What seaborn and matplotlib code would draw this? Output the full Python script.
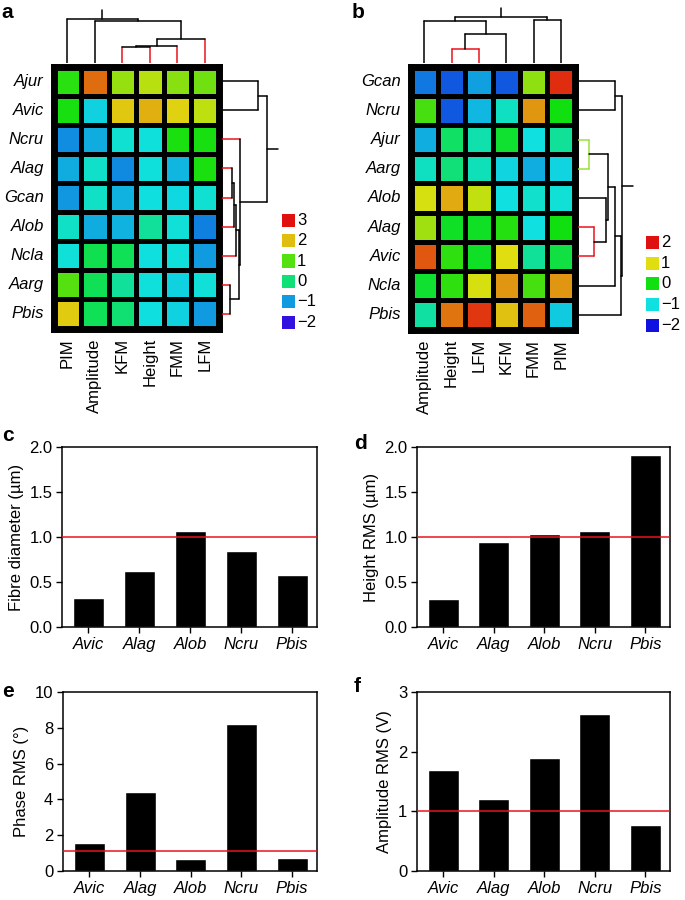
import numpy as np
import pandas as pd
import seaborn as sns
import matplotlib
matplotlib.use("Agg")
from matplotlib import pyplot as plt
from matplotlib.colors import ListedColormap, Normalize, hsv_to_rgb

sns.set_theme(style="ticks")
plt.rcParams['font.family'] = ['Liberation Sans', 'DejaVu Sans']
plt.rcParams['axes.edgecolor'] = 'black'
plt.rcParams['xtick.color'] = 'black'
plt.rcParams['ytick.color'] = 'black'
plt.rcParams['text.color'] = 'black'
plt.rcParams['axes.labelcolor'] = 'black'

# ---------------- heatmap data ----------------
a_rows = ['Ajur', 'Avic', 'Ncru', 'Alag', 'Gcan', 'Alob', 'Ncla', 'Aarg', 'Pbis']
a_cols = ['PIM', 'Amplitude', 'KFM', 'Height', 'FMM', 'LFM']
a_values = [
    [0.74, 2.46, 1.36, 1.56, 1.3, 1.16],
    [0.64, -0.68, 1.94, 2.08, 1.88, 1.6],
    [-1.08, -0.9, -0.5, -0.56, 0.66, 0.64],
    [-0.9, -0.46, -1.1, -0.56, -0.84, 0.66],
    [-1.02, -0.44, -0.86, -0.6, -0.64, -0.5],
    [-0.44, -0.9, -0.86, -0.2, -0.54, -1.16],
    [-0.54, 0.24, 0.2, -0.6, -0.56, -1.0],
    [1.0, 0.2, -0.2, -0.56, -0.68, -0.54],
    [1.92, 0.2, 0.04, -0.6, -0.68, -1.0],
]
a_levels = [3, 2, 1, 0, -1, -2]

b_rows = ['Gcan', 'Ncru', 'Ajur', 'Aarg', 'Alob', 'Alag', 'Avic', 'Ncla', 'Pbis']
b_cols = ['Amplitude', 'Height', 'LFM', 'KFM', 'FMM', 'PIM']
b_values = [
    [-1.5, -1.65, -1.3, -1.65, 0.6, 1.85],
    [0.25, -1.65, -1.2, -0.85, 1.35, 0.0],
    [-1.25, -0.4, -0.75, -0.15, -1.0, -0.65],
    [-0.85, -0.5, -0.8, -1.05, -1.25, -1.05],
    [0.95, 1.25, 0.85, -1.0, -0.9, -0.95],
    [0.7, -0.1, -0.1, 0.1, -1.0, 0.0],
    [1.65, 0.15, -0.1, 1.0, -0.65, -0.25],
    [-0.15, 0.15, 0.95, 1.35, 0.25, 1.35],
    [-0.7, 1.5, 1.8, 1.15, 1.6, -1.1],
]
b_levels = [2, 1, 0, -1, -2]

# dendrograms as nested (left, right, merge height)
a_col_tree = ('PIM', ('Amplitude', ((('KFM', 'Height', 15.7), 'FMM', 16.7), 'LFM', 24.3), 42.3), 44.3)
a_row_tree = (('Ajur', 'Avic', 35.7),
              ('Ncru', (((('Alag', 'Gcan', 10), 'Alob', 12), 'Ncla', 14), ('Aarg', 'Pbis', 8), 16.7), 18),
              44.7)
b_col_tree = (('Amplitude', (('Height', 'LFM', 14.3), 'KFM', 29.3), 41.7), ('FMM', 'PIM', 42.7), 45.7)
b_row_tree = (('Gcan', 'Ncru', 36.7),
              (((('Ajur', 'Aarg', 10.7), ('Alob', ('Alag', 'Avic', 16), 28.3), 30), 'Ncla', 36.7), 'Pbis', 42.7),
              44)

RED = '#e8141c'
LIME = '#9be03c'
a_col_leaf = {'KFM': RED, 'Height': RED, 'FMM': RED, 'LFM': RED}
a_row_leaf = {k: RED for k in ['Ncru', 'Alag', 'Gcan', 'Alob', 'Ncla', 'Aarg', 'Pbis']}
b_col_leaf = {'Height': RED, 'LFM': RED}
b_row_leaf = {'Ajur': LIME, 'Aarg': LIME, 'Alag': RED, 'Avic': RED}
b_links = {frozenset(['Height', 'LFM']): RED, frozenset(['Ajur', 'Aarg']): LIME,
           frozenset(['Alag', 'Avic']): RED}

# ---------------- bar data ----------------
species = ['Avic', 'Alag', 'Alob', 'Ncru', 'Pbis']
fibre_diameter = [0.32, 0.62, 1.07, 0.85, 0.58]
height_rms = [0.31, 0.94, 1.03, 1.07, 1.91]
phase_rms = [1.56, 4.4, 0.65, 8.23, 0.74]
amplitude_rms = [1.69, 1.21, 1.89, 2.63, 0.77]


def rainbow(start_hue):
    # hue sweep from blue (start_hue) down to red
    hues = np.linspace(start_hue, 0, 256) / 360.0
    hsv = np.stack([hues, np.full(256, 0.93), np.full(256, 0.88)], axis=1)
    return ListedColormap(hsv_to_rgb(hsv))


W, H = 685, 900
fig = plt.figure(figsize=(W / 100, H / 100), dpi=100)


def box(x0, y0, x1, y1):
    return [x0 / W, 1 - y1 / H, (x1 - x0) / W, (y1 - y0) / H]


def seg(ax, p0, h0, p1, h1, color, horizontal):
    if horizontal:
        ax.plot([h0, h1], [p0, p1], color=color, lw=1.1)
    else:
        ax.plot([p0, p1], [h0, h1], color=color, lw=1.1)


def draw_tree(ax, node, pos, leaf_colors, link_colors, horizontal):
    if isinstance(node, str):
        return pos[node], 0.0, leaf_colors.get(node, 'black')
    left, right, h = node
    p1, h1, c1 = draw_tree(ax, left, pos, leaf_colors, link_colors, horizontal)
    p2, h2, c2 = draw_tree(ax, right, pos, leaf_colors, link_colors, horizontal)
    link = 'black'
    if isinstance(left, str) and isinstance(right, str):
        link = link_colors.get(frozenset([left, right]), 'black')
    seg(ax, p1, h1, p1, h, c1, horizontal)
    seg(ax, p2, h2, p2, h, c2, horizontal)
    seg(ax, p1, h, p2, h, link, horizontal)
    return (p1 + p2) / 2, h, 'black'


def heat_panel(rows, cols, values, vmin, vmax, cmap, levels, heat_px, col_tree, row_tree,
               col_leaf, row_leaf, links, legend_px, letter, letter_xy):
    x0, y0, x1, y1 = heat_px
    pad = 3.5
    ax = fig.add_axes(box(x0 + pad, y0 + pad, x1 - pad, y1 - pad))
    df = pd.DataFrame(values, index=rows, columns=cols)
    sns.heatmap(df, ax=ax, cmap=cmap, vmin=vmin, vmax=vmax, cbar=False,
                linewidths=3.6, linecolor='black')
    for sp in ax.spines.values():
        sp.set_visible(True)
        sp.set_linewidth(5)
        sp.set_color('black')
    ax.set_xlabel('')
    ax.set_ylabel('')
    ax.set_yticklabels(rows, rotation=0, fontstyle='italic', fontsize=12)
    ax.set_xticklabels(cols, rotation=90, fontsize=12)
    ax.tick_params(length=0, pad=7)

    # column dendrogram on top
    axc = fig.add_axes(box(x0 + pad, y0 - 60, x1 - pad, y0))
    cpos = {c: i + 0.5 for i, c in enumerate(cols)}
    p, h, _ = draw_tree(axc, col_tree, cpos, col_leaf, links, False)
    seg(axc, p, h, p, h + 9, 'black', False)
    axc.set_xlim(0, len(cols))
    axc.set_ylim(0, 60)
    axc.axis('off')

    # row dendrogram on the right
    axr = fig.add_axes(box(x1, y0 + pad, x1 + 60, y1 - pad))
    rpos = {r: i + 0.5 for i, r in enumerate(rows)}
    p, h, _ = draw_tree(axr, row_tree, rpos, row_leaf, links, True)
    seg(axr, p, h, p, h + 11, 'black', True)
    axr.set_ylim(len(rows), 0)
    axr.set_xlim(0, 60)
    axr.axis('off')

    # legend
    lx0, ly0, pitch = legend_px
    n = len(levels)
    axl = fig.add_axes(box(lx0, ly0, lx0 + 45, ly0 + n * pitch))
    norm = Normalize(vmin, vmax)
    axl.scatter([6.5] * n, range(n), marker='s', s=88, c=[cmap(norm(v)) for v in levels],
                linewidths=0)
    for i, v in enumerate(levels):
        axl.text(15, i, str(v).replace('-', '\u2212'), va='center', ha='left', fontsize=12)
    axl.set_xlim(0, 45)
    axl.set_ylim(n - 0.5, -0.5)
    axl.axis('off')

    fig.text(letter_xy[0] / W, 1 - letter_xy[1] / H, letter, fontsize=15,
             fontweight='bold', va='top', ha='left')


heat_panel(a_rows, a_cols, a_values, -2, 3, rainbow(250), a_levels, (50, 63, 222, 332),
           a_col_tree, a_row_tree, a_col_leaf, a_row_leaf, {}, (282, 210, 20.4), 'a', (1, 3))
heat_panel(b_rows, b_cols, b_values, -2, 2, rainbow(240), b_levels, (407, 63, 578, 333),
           b_col_tree, b_row_tree, b_col_leaf, b_row_leaf, b_links, (646, 232, 20.75), 'b', (352, 3))


def bar_panel(px, vals, ylim, yticks, fmt, ylabel, ref, letter, letter_xy):
    ax = fig.add_axes(box(*px))
    sns.barplot(x=species, y=vals, ax=ax, color='black', saturation=1, width=0.61)
    ax.axhline(ref, color=RED, lw=1.1, zorder=3)
    ax.set_xlim(-0.52, 4.49)
    ax.set_ylim(*ylim)
    ax.set_yticks(yticks)
    ax.set_yticklabels([fmt.format(t) for t in yticks], fontsize=12)
    ax.set_xticks(range(len(species)))
    ax.set_xticklabels(species, fontstyle='italic', fontsize=12)
    ax.set_ylabel(ylabel, fontsize=12)
    ax.set_xlabel('')
    for sp in ax.spines.values():
        sp.set_visible(True)
        sp.set_linewidth(1.1)
        sp.set_color('black')
    ax.tick_params(direction='out', length=4, width=1, pad=3)
    fig.text(letter_xy[0] / W, 1 - letter_xy[1] / H, letter, fontsize=15,
             fontweight='bold', va='top', ha='left')


bar_panel((62, 447, 317, 627), fibre_diameter, (0, 2), [0, 0.5, 1.0, 1.5, 2.0], '{:.1f}',
          'Fibre diameter (\u00b5m)', 1.0, 'c', (2, 426))
bar_panel((417, 447, 670, 627), height_rms, (0, 2), [0, 0.5, 1.0, 1.5, 2.0], '{:.1f}',
          'Height RMS (\u00b5m)', 1.0, 'd', (354, 434))
bar_panel((63, 692, 317, 871), phase_rms, (0, 10), [0, 2, 4, 6, 8, 10], '{:g}',
          'Phase RMS (\u00b0)', 1.1, 'e', (2, 682))
bar_panel((417, 692, 670, 871), amplitude_rms, (0, 3), [0, 1, 2, 3], '{:g}',
          'Amplitude RMS (V)', 1.0, 'f', (354, 677))

fig.savefig('out.png', dpi=100)
